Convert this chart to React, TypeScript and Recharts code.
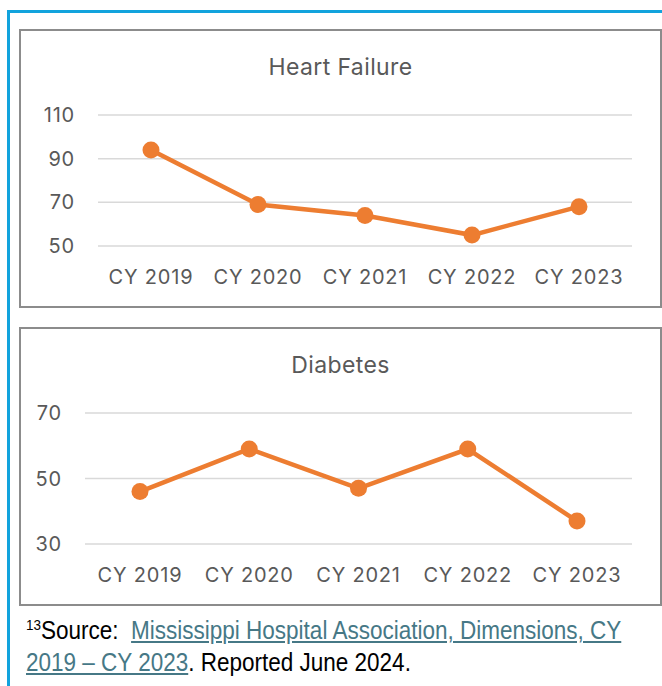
import { LineChart, Line, XAxis, YAxis, CartesianGrid } from 'recharts';

const years = ['CY 2019', 'CY 2020', 'CY 2021', 'CY 2022', 'CY 2023'];
const heartFailure = [94, 69, 64, 55, 68];
const diabetes = [46, 59, 47, 59, 37];
const hfTicks = [50, 70, 90, 110];
const diabTicks = [30, 50, 70];

const hfData = years.map((year, i) => ({ year, value: heartFailure[i] }));
const diabData = years.map((year, i) => ({ year, value: diabetes[i] }));

const ORANGE = '#ED7D31';
const GRAY_TEXT = '#595959';
const FONT = 'Inter, "Liberation Sans", sans-serif';

const tickStyle = { fill: GRAY_TEXT, fontSize: 20, fontFamily: FONT, letterSpacing: 0.8 };

const Panel = ({ top, title, data, ticks, axisWidth, pad }: any) => (
  <div
    style={{
      position: 'absolute',
      left: 19,
      top,
      width: 643,
      height: 279,
      boxSizing: 'border-box',
      border: '2px solid #8c8c8c',
      background: '#fff',
    }}
  >
    <div
      style={{
        position: 'absolute',
        left: 0,
        width: 639,
        top: 21,
        textAlign: 'center',
        fontFamily: FONT,
        fontSize: 23,
        letterSpacing: 0.4,
        lineHeight: '30px',
        color: GRAY_TEXT,
      }}
    >
      {title}
    </div>
    <div style={{ position: 'absolute', left: 0, top: 0 }}>
      <LineChart width={639} height={275} data={data} margin={{ top: 84, right: 28, left: 0, bottom: 0 }}>
        <CartesianGrid vertical={false} stroke="#d9d9d9" strokeWidth={1.5} />
        <XAxis
          dataKey="year"
          axisLine={false}
          tickLine={false}
          tickSize={0}
          tickMargin={24}
          height={60}
          padding={{ left: pad, right: pad }}
          tick={tickStyle}
          interval={0}
        />
        <YAxis
          domain={[ticks[0], ticks[ticks.length - 1]]}
          ticks={ticks}
          axisLine={false}
          tickLine={false}
          tickSize={0}
          tickMargin={23}
          width={axisWidth}
          tick={tickStyle}
        />
        <Line
          dataKey="value"
          stroke={ORANGE}
          strokeWidth={4.5}
          dot={{ r: 8.5, fill: ORANGE, stroke: ORANGE, strokeWidth: 0 }}
          activeDot={false}
          isAnimationActive={false}
        />
      </LineChart>
    </div>
  </div>
);

export default function App() {
  return (
    <div style={{ position: 'absolute', left: 0, top: 0, width: 662, height: 686, background: '#fff', overflow: 'hidden' }}>
      <div
        style={{
          position: 'absolute',
          left: 7,
          top: 10,
          width: 700,
          height: 700,
          borderTop: '3px solid #12A3DD',
          borderLeft: '3px solid #12A3DD',
        }}
      />
      <Panel top={29} title="Heart Failure" data={hfData} ticks={hfTicks} axisWidth={77} pad={53} />
      <Panel top={327} title="Diabetes" data={diabData} ticks={diabTicks} axisWidth={64} pad={55} />
      <div
        style={{
          position: 'absolute',
          left: 26,
          top: 616,
          whiteSpace: 'nowrap',
          fontFamily: '"Liberation Sans", sans-serif',
          fontSize: 25,
          lineHeight: '29px',
          color: '#000',
          transform: 'scaleX(0.9)',
          transformOrigin: 'left top',
        }}
      >
        <span style={{ fontSize: 15, position: 'relative', top: -9 }}>13</span>Source:&nbsp;{' '}
        <a href="#" style={{ color: '#467886' }}>
          Mississippi Hospital Association, Dimensions, CY
          <br />
          2019 – CY 2023
        </a>
        . Reported June 2024.
      </div>
    </div>
  );
}
